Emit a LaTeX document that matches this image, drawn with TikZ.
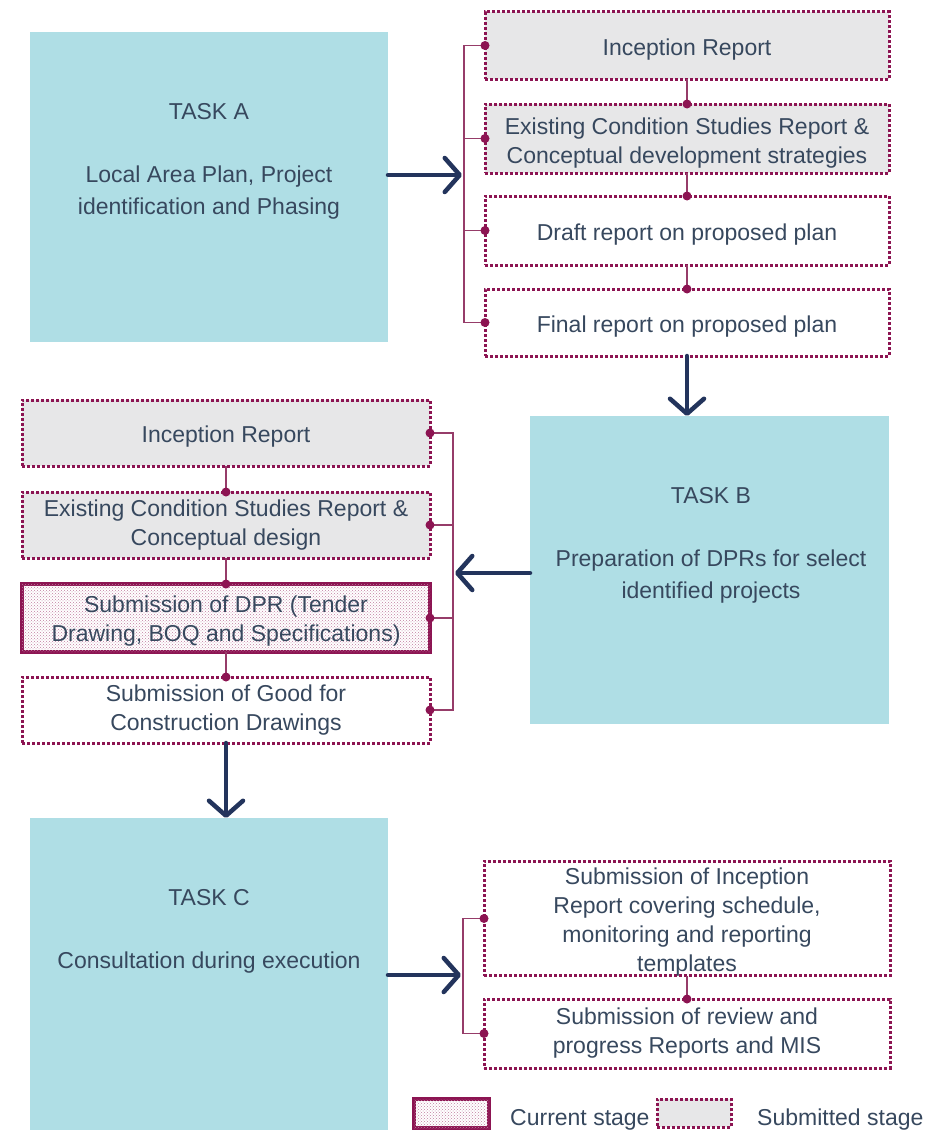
\documentclass[tikz,border=0pt]{standalone}
\usepackage{fontspec}
\setmainfont{Liberation Sans}
\usetikzlibrary{arrows.meta,patterns,calc}
\definecolor{plum}{RGB}{140,20,82}
\definecolor{plumline}{RGB}{150,60,105}
\definecolor{taskteal}{RGB}{175,222,229}
\definecolor{subgray}{RGB}{231,231,232}
\definecolor{navy}{RGB}{35,52,92}
\definecolor{txt}{RGB}{55,72,94}
\newcommand\upstrut[1]{\rule{0pt}{#1}}
\begin{document}
\begin{tikzpicture}[x=1pt,y=-1pt,
  font=\fontsize{23}{29}\selectfont,
  every node/.style={text=txt},
  taskbox/.style={rectangle, fill=taskteal, inner sep=0pt, outer sep=0pt},
  tasktxt/.style={anchor=base, inner sep=0pt},
  stagebox/.style={rectangle, draw=plum, line width=3pt, dash pattern=on 2.6pt off 2.4pt, align=center, inner sep=0pt, outer sep=0pt},
  submitted/.style={stagebox, fill=subgray},
  pending/.style={stagebox, fill=white},
  current/.style={rectangle, draw=plum, line width=4pt, fill=white, align=center, inner sep=0pt, outer sep=0pt, postaction={pattern=crosshatch dots, pattern color=plum!55}},
  bline/.style={draw=plumline, line width=1.3pt},
  dotc/.style={fill=plum},
  bigarrow/.style={draw=navy, line width=4.5pt, line cap=round, line join=round, -{Straight Barb[round,length=15pt,width=34pt]}}
]
\fill[white] (0,0) rectangle (934,1132);
\useasboundingbox (0,0) rectangle (934,1132);

% ---------- Task boxes ----------
\node[taskbox, minimum width=358, minimum height=310] (TA) at (209,187) {};
\node[tasktxt] (TAt1) at (209,119) {TASK A};
\node[tasktxt] (TAt2) at (209,182) {Local Area Plan, Project};
\node[tasktxt] (TAt3) at (209,214) {identification and Phasing};

\node[taskbox, minimum width=359, minimum height=308] (TB) at (709.5,570) {};
\node[tasktxt] (TBt1) at (711,503) {TASK B};
\node[tasktxt] (TBt2) at (711,566) {Preparation of DPRs for select};
\node[tasktxt] (TBt3) at (711,598) {identified projects};

\node[taskbox, minimum width=358, minimum height=312] (TC) at (209,974) {};
\node[tasktxt] (TCt1) at (209,905) {TASK C};
\node[tasktxt] (TCt2) at (209,968) {Consultation during execution};

% ---------- Task A outputs ----------
\node[submitted, minimum width=404, minimum height=67] (IR1) at (687,45.5) {\upstrut{24pt}Inception Report};
\node[submitted, minimum width=404, minimum height=69] (EC1) at (687,138.5) {\upstrut{25pt}Existing Condition Studies Report \&\\Conceptual development strategies};
\node[pending, minimum width=404, minimum height=69] (DR1) at (687,230.5) {\upstrut{24pt}Draft report on proposed plan};
\node[pending, minimum width=404, minimum height=67] (FR1) at (687,322.5) {\upstrut{24pt}Final report on proposed plan};

% ---------- Task B outputs ----------
\node[submitted, minimum width=408, minimum height=66] (IR2) at (226,433) {\upstrut{24pt}Inception Report};
\node[submitted, minimum width=408, minimum height=66] (EC2) at (226,525) {Existing Condition Studies Report \&\\Conceptual design};
\node[current, minimum width=408, minimum height=68] (DPR) at (226,618) {\upstrut{22pt}Submission of DPR (Tender\\Drawing, BOQ and Specifications)};
\node[pending, minimum width=408, minimum height=66] (GC) at (226,710) {Submission of Good for\\Construction Drawings};

% ---------- Task C outputs ----------
\node[pending, minimum width=406, minimum height=111] (SI) at (687,918.5) {\upstrut{23pt}Submission of Inception\\Report covering schedule,\\monitoring and reporting\\templates};
\node[pending, minimum width=406, minimum height=69] (SR) at (687,1033.5) {Submission of review and\\progress Reports and MIS};

% ---------- legend ----------
\node[current, minimum width=75, minimum height=29] (LC) at (451.5,1113.5) {};
\node[anchor=base west, inner sep=0pt] (LCt) at (510,1125) {Current stage};
\node[submitted, minimum width=74, minimum height=28] (LS) at (694,1113) {};
\node[anchor=base west, inner sep=0pt] (LSt) at (757,1125) {Submitted stage};

% ---------- brackets ----------
\coordinate (brA) at (464,175);
\draw[bline] (IR1.west) -- (IR1.west -| brA) -- (FR1.west -| brA) -- (FR1.west);
\draw[bline] (EC1.west) -- (EC1.west -| brA);
\draw[bline] (DR1.west) -- (DR1.west -| brA);

\coordinate (brB) at (453,573);
\draw[bline] (IR2.east) -- (IR2.east -| brB) -- (GC.east -| brB) -- (GC.east);
\draw[bline] (EC2.east) -- (EC2.east -| brB);
\draw[bline] (DPR.east) -- (DPR.east -| brB);

\coordinate (brC) at (463,975);
\draw[bline] (SI.west) -- (SI.west -| brC) -- (SR.west -| brC) -- (SR.west);

% ---------- sequential links ----------
\draw[bline] (IR1.south) -- (EC1.north);
\draw[bline] (EC1.south) -- (DR1.north);
\draw[bline] (DR1.south) -- (FR1.north);
\draw[bline] (IR2.south) -- (EC2.north);
\draw[bline] (EC2.south) -- (DPR.north);
\draw[bline] (DPR.south) -- (GC.north);
\draw[bline] (SI.south) -- (SR.north);

% ---------- dots ----------
\foreach \p in {IR1.west,EC1.west,DR1.west,FR1.west,EC1.north,DR1.north,FR1.north,
                IR2.east,EC2.east,DPR.east,GC.east,EC2.north,DPR.north,GC.north,
                SI.west,SR.west,SR.north}
  \fill[dotc] (\p) circle (4.5pt);

% ---------- big arrows ----------
\draw[bigarrow] (TA.east |- brA) -- ($(brA)+(-2,0)$);
\draw[bigarrow] (FR1.south) -- (FR1.south |- TB.north);
\draw[bigarrow] (TB.west |- brB) -- ($(brB)+(2,0)$);
\draw[bigarrow] (GC.south) -- (GC.south |- TC.north);
\draw[bigarrow] (TC.east |- brC) -- ($(brC)+(-2,0)$);
\end{tikzpicture}
\end{document}
